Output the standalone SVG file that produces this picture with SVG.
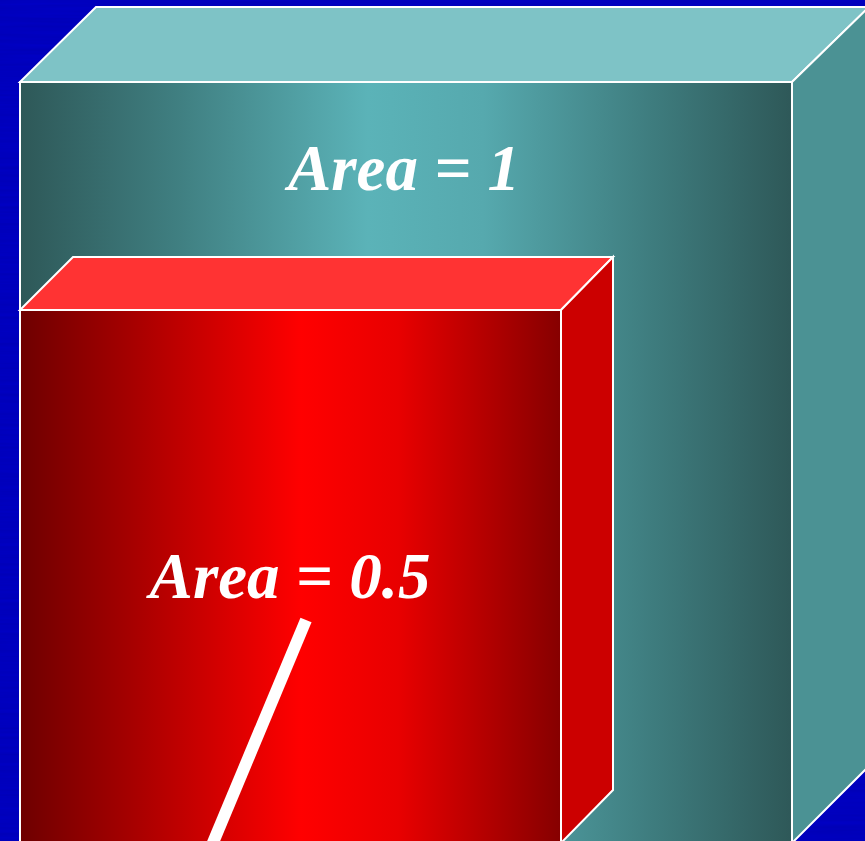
<svg xmlns="http://www.w3.org/2000/svg" width="865" height="841" viewBox="0 0 865 841">
<defs>
<linearGradient id="tealFront" x1="20" y1="0" x2="792" y2="0" gradientUnits="userSpaceOnUse">
<stop offset="0" stop-color="#2E5858"/>
<stop offset="0.2" stop-color="#3F7E80"/>
<stop offset="0.45" stop-color="#5BB3B8"/>
<stop offset="0.6" stop-color="#56A9AE"/>
<stop offset="0.82" stop-color="#3E7C7E"/>
<stop offset="1" stop-color="#2E5858"/>
</linearGradient>
<linearGradient id="redFront" x1="20" y1="0" x2="561" y2="0" gradientUnits="userSpaceOnUse">
<stop offset="0" stop-color="#6E0000"/>
<stop offset="0.2" stop-color="#A40000"/>
<stop offset="0.52" stop-color="#FF0000"/>
<stop offset="0.7" stop-color="#E80000"/>
<stop offset="1" stop-color="#860000"/>
</linearGradient>
<filter id="noise" x="0" y="0" width="100%" height="100%">
<feTurbulence type="fractalNoise" baseFrequency="0.01 0.3" numOctaves="2" seed="3"/>
<feColorMatrix type="matrix" values="0 0 0 0 0  0 0 0 0 0  0 0 0 0 1  0 0 0 0.25 0"/>
</filter>
<style>
.edge{stroke:#FFFFFF;stroke-width:2;stroke-linejoin:miter}
.label{font-family:"Liberation Serif","Times New Roman",serif;font-weight:bold;font-style:italic;font-size:65px;fill:#FFFFFF;text-anchor:middle}
</style>
</defs>
<g id="background">
<rect x="0" y="0" width="865" height="841" fill="#0000B4"/>
<rect x="0" y="0" width="865" height="841" filter="url(#noise)"/>
</g>
<g id="box-area-1">
<polygon class="edge" points="20,82 96,7 869,7 792,82" fill="#7EC3C6"/>
<polygon class="edge" points="792,82 869,7 869,766 792,843" fill="#4B9294"/>
<rect class="edge" x="20" y="82" width="772" height="761" fill="url(#tealFront)"/>
<text class="label" x="404" y="190">Area = 1</text>
</g>
<g id="box-area-05">
<polygon class="edge" points="20,310 73,257 613,257 561,310" fill="#FF3333"/>
<polygon class="edge" points="561,310 613,257 613,790 561,843" fill="#CC0000"/>
<rect class="edge" x="20" y="310" width="541" height="533" fill="url(#redFront)"/>
<text class="label" x="290" y="598">Area = 0.5</text>
</g>
<g id="connectors">
<line x1="306" y1="620" x2="212" y2="845" stroke="#FFFFFF" stroke-width="12"/>
</g>
</svg>
